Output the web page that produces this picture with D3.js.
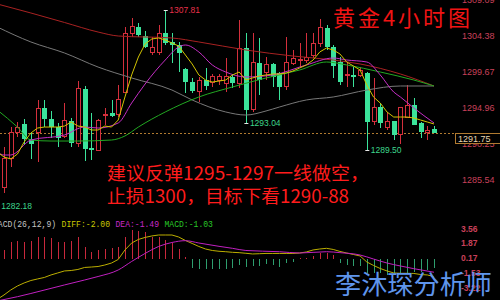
<!DOCTYPE html>
<html>
<head>
<meta charset="utf-8">
<script src="https://cdn.jsdelivr.net/npm/d3@7"></script>
<style>
  html, body { margin: 0; padding: 0; background: #000; overflow: hidden; }
  svg { display: block; }
</style>
</head>
<body>
<svg id="chart" width="500" height="300"></svg>
<script>
// ---- 4-hour gold candles (index 0 .. 65, oldest first) ----
const opens = [
  1283.50,
  1284.62, 1288.29, 1291.69, 1292.87, 1290.90,
  1291.69, 1294.96, 1293.52, 1292.47, 1291.17,
  1293.26, 1290.38, 1297.45, 1289.73, 1289.46,
  1294.04, 1294.31, 1294.17, 1297.05, 1304.77,
  1305.56, 1304.38, 1302.16, 1302.16, 1304.77,
  1303.60, 1303.20, 1300.06, 1298.36, 1297.18,
  1298.62, 1298.36, 1298.62, 1298.23, 1299.02,
  1298.23, 1302.81, 1294.70, 1300.85, 1299.67,
  1300.72, 1299.54, 1297.71, 1300.72, 1301.30,
  1301.24, 1301.89, 1303.46, 1305.43, 1302.94,
  1300.98, 1299.15, 1299.28, 1299.15, 1299.54,
  1293.13, 1295.09, 1292.47, 1293.26, 1291.43,
  1293.78, 1295.35, 1293.00, 1291.82, 1292.21
];
const highs = [
  1285.00,
  1289.86, 1292.47, 1293.13, 1293.52, 1291.69,
  1296.01, 1296.01, 1294.57, 1293.00, 1295.61,
  1293.65, 1298.49, 1297.84, 1294.31, 1293.52,
  1294.96, 1296.01, 1297.97, 1305.56, 1306.73,
  1306.08, 1305.03, 1304.25, 1305.82, 1307.81,
  1304.77, 1303.60, 1300.19, 1298.89, 1299.02,
  1300.19, 1299.41, 1299.41, 1301.50, 1299.41,
  1306.47, 1304.77, 1304.77, 1304.12, 1301.63,
  1300.85, 1299.67, 1304.25, 1302.55, 1303.46,
  1304.77, 1304.77, 1306.60, 1305.82, 1303.20,
  1301.63, 1300.85, 1300.32, 1300.32, 1299.67,
  1298.89, 1295.61, 1294.44, 1293.26, 1295.09,
  1297.97, 1296.27, 1293.13, 1292.60, 1292.60
];
const lows = [
  1282.18,
  1283.84, 1287.24, 1291.17, 1290.25, 1288.29,
  1287.89, 1292.47, 1291.04, 1289.86, 1291.04,
  1289.86, 1289.86, 1288.03, 1288.16, 1289.33,
  1292.74, 1293.78, 1293.78, 1296.92, 1304.25,
  1304.25, 1302.81, 1301.89, 1301.89, 1303.20,
  1300.85, 1299.67, 1296.92, 1296.92, 1295.74,
  1297.31, 1297.71, 1297.97, 1297.05, 1297.58,
  1297.58, 1293.04, 1294.44, 1296.66, 1298.62,
  1297.71, 1296.01, 1297.31, 1300.59, 1300.32,
  1300.85, 1301.50, 1302.94, 1302.55, 1298.89,
  1297.97, 1297.71, 1297.71, 1299.02, 1289.50,
  1292.74, 1292.34, 1292.08, 1290.77, 1290.25,
  1293.65, 1292.74, 1291.04, 1290.77, 1291.69
];
const closes = [
  1284.60,
  1288.29, 1291.69, 1292.47, 1290.90, 1290.25,
  1294.96, 1293.52, 1292.47, 1291.04, 1293.26,
  1290.38, 1297.45, 1289.60, 1289.46, 1293.26,
  1294.17, 1293.91, 1296.01, 1304.77, 1305.56,
  1304.51, 1302.94, 1302.94, 1304.77, 1303.46,
  1303.20, 1302.16, 1298.36, 1297.18, 1298.62,
  1297.84, 1299.02, 1299.02, 1299.02, 1298.23,
  1302.81, 1294.70, 1300.85, 1298.62, 1300.59,
  1299.02, 1297.71, 1300.85, 1301.50, 1301.37,
  1301.63, 1303.46, 1305.43, 1302.94, 1300.46,
  1298.36, 1299.28, 1299.02, 1299.93, 1293.13,
  1295.09, 1293.00, 1293.13, 1291.43, 1295.09,
  1295.35, 1292.74, 1291.82, 1292.08, 1291.75
];
const lastPrice = 1291.75;

// ---- moving averages ----
// short average, one value per bar from index 0
const ma5 = [
  1289.20,
  1288.55, 1288.29, 1288.94, 1290.51, 1291.69, 1292.34, 1292.47, 1292.47, 1292.47, 1292.60,
  1293.13, 1292.60, 1292.47, 1292.08, 1292.08, 1292.60, 1292.47, 1293.39, 1296.40, 1299.28,
  1301.63, 1303.33, 1303.99, 1304.12, 1303.86, 1303.46, 1303.07, 1301.89, 1300.72, 1299.28,
  1298.62, 1298.36, 1298.49, 1298.62, 1299.28, 1299.67, 1298.62, 1298.89, 1299.15, 1299.28,
  1299.41, 1299.41, 1299.54, 1299.80, 1300.19, 1300.59, 1301.24, 1302.29, 1302.81, 1302.55,
  1302.03, 1300.98, 1300.46, 1299.93, 1297.97, 1296.40, 1295.61, 1294.44, 1293.78, 1293.78,
  1293.78, 1293.65, 1293.39, 1293.13, 1292.87
];
// longer averages, sampled at the listed bar indices
const ma10Idx = [0, 1, 2, 5, 10, 13, 15, 18, 20, 22, 25, 27, 28, 30, 32, 34, 37, 41, 46, 50, 52, 55, 57, 59, 60, 62, 65];
const ma10Val = [1289.20, 1288.81, 1288.81, 1290.77, 1291.43, 1292.47, 1292.34, 1293.00, 1295.61, 1298.10,
                 1301.24, 1302.94, 1303.20, 1302.29, 1300.59, 1299.67, 1299.02, 1299.28, 1300.59, 1301.50,
                 1301.24, 1300.98, 1299.28, 1297.05, 1296.40, 1294.96, 1293.00];
const ma20Idx = [0, 3, 5, 8, 12, 17, 19, 21, 25, 30, 35, 40, 45, 49, 52, 57, 62, 65];
const ma20Val = [1294.70, 1292.47, 1290.77, 1290.64, 1290.64, 1290.77, 1291.30, 1292.47, 1294.44, 1296.40,
                 1297.71, 1298.89, 1299.93, 1300.98, 1300.59, 1299.67, 1298.62, 1297.84];
const ma60Idx = [0, 5, 10, 15, 18, 26, 30, 37, 44, 50, 54, 60, 65];
const ma60Val = [1308.57, 1307.39, 1306.15, 1304.90, 1304.38, 1304.12, 1303.60, 1302.55, 1301.76, 1301.24,
                 1300.72, 1299.41, 1297.84];
const ma120Idx = [0, 5, 10, 15, 20, 26, 29, 34, 37, 40, 42, 46, 50, 55, 60, 65];
const ma120Val = [1305.56, 1303.60, 1302.16, 1300.32, 1298.89, 1297.31, 1296.01, 1294.44, 1294.04, 1294.57,
                  1295.09, 1296.01, 1296.40, 1297.31, 1297.84, 1297.84];

// ---- MACD(26,12,9) ----
const macdHist = [
  1.07, 2.02, 2.14, 2.02, 2.14, 2.60, 2.60, 2.41, 2.02, 2.02,
  2.14, 2.60, 1.45, 0.87, 1.07, 1.15, 1.26, 1.45, 2.60, 3.37,
  3.29, 3.17, 2.60, 2.60, 2.22, 1.84, 1.15, 0.30, -1.03, -1.15,
  -1.15, -1.15, -1.15, -1.15, -1.03, -0.66, -0.85, -0.77, -0.77, -0.54,
  -0.66, -0.85, -0.46, -0.28, 0.11, 0.11, 0.38, 0.76, 0.69, 0.49,
  -0.39, -0.66, -0.77, -0.77, -1.61, -1.61, -1.61, -1.80, -1.61, -1.64,
  -1.61, -1.43, -1.43, -1.23, -1.03
]; // bars for index 1 .. 65
const diffLine = [
  -4.60, -4.10, -3.53, -3.07, -2.72, -2.44, -2.26, -2.09, -1.80, -1.57,
  -1.34, -1.29, -1.17, -0.94, -0.89, -0.83, -0.66, -0.43, -0.02, 1.07,
  1.87, 2.28, 2.51, 2.68, 2.79, 2.79, 2.79, 2.56, 2.16, 1.82,
  1.47, 1.18, 1.01, 0.92, 0.87, 0.80, 0.76, 0.69, 0.61, 0.64,
  0.67, 0.67, 0.67, 0.67, 0.67, 0.72, 0.84, 1.07, 1.18, 1.26,
  1.13, 0.90, 0.72, 0.55, 0.38, -0.31, -0.71, -1.06, -1.34, -1.57,
  -1.61, -1.61, -1.63, -1.75, -1.80, -2.00
];
const deaIdx = [0, 3, 5, 10, 13, 15, 18, 20, 22, 24, 26, 28, 30, 33, 35, 37, 42, 45, 49, 51, 54, 56, 58, 60, 62, 65];
const deaVal = [-4.79, -4.30, -3.93, -2.95, -2.38, -1.98, -1.23, -0.25, 0.67, 1.47, 1.93, 2.14, 1.87, 1.49, 1.26,
                1.01, 0.87, 0.72, 0.87, 0.76, 0.49, 0.03, -0.43, -0.77, -1.08, -1.49];
const macdTitle = ["MACD(26,12,9)", "DIFF:-2.00", "DEA:-1.49", "MACD:-1.03"];

// ---- axis ticks and labels ----
const priceTicks = [1309.09, 1304.38, 1299.67, 1294.96, 1290.25, 1285.54];
const macdTicks = [3.56, 1.87, 0.17, -1.53, -3.22];
const titleText = "黄金4小时图";
const noteLines = ["建议反弹1295-1297一线做空，", "止损1300，目标下看1290-88"];
const authorText = "李沐琛分析师";

// ---- palette ----
const C = {
  up: "#d42f3c", down: "#3be39b",
  ma5: "#d2c400", ma10: "#c52ec5", ma20: "#22a822", ma60: "#a82222", ma120: "#787878",
  histUp: "#c8283c", histDown: "#2e9e6e", diff: "#bcae00", dea: "#c020c0",
  axis: "#c8405a", last: "#b07a30"
};

const svg = d3.select("#chart");
svg.append("rect").attr("width", 500).attr("height", 300).attr("fill", "#000");

const x = d3.scaleLinear().domain([1, 65]).range([4, 434]);
const y = d3.scaleLinear().domain([1285.54, 1304.38]).range([180, 36]);
const ym = d3.scaleLinear().domain([-3.22, 3.56]).range([287.3, 228.3]);
const px = i => Math.round(x(i));

const defs = svg.append("defs");
defs.append("clipPath").attr("id", "pricePane").append("rect").attr("x", 0).attr("y", 0).attr("width", 456).attr("height", 214);
defs.append("clipPath").attr("id", "macdPane").append("rect").attr("x", 0).attr("y", 214).attr("width", 456).attr("height", 86);

// ---- price pane ----
const price = svg.append("g").attr("clip-path", "url(#pricePane)");

// last price dashed line
price.append("line")
  .attr("x1", 0).attr("x2", 455)
  .attr("y1", Math.round(y(lastPrice)) + 0.5).attr("y2", Math.round(y(lastPrice)) + 0.5)
  .attr("stroke", C.last).attr("stroke-width", 1).attr("stroke-dasharray", "2,2");

const idx = d3.range(opens.length);
const candles = price.append("g").attr("shape-rendering", "crispEdges");
candles.selectAll("line").data(idx).join("line")
  .attr("x1", i => px(i) + 0.5).attr("x2", i => px(i) + 0.5)
  .attr("y1", i => y(highs[i])).attr("y2", i => y(lows[i]))
  .attr("stroke", i => closes[i] >= opens[i] ? C.up : C.down).attr("stroke-width", 1);
candles.selectAll("rect").data(idx).join("rect")
  .each(function (i) {
    const up = closes[i] >= opens[i];
    const top = y(Math.max(opens[i], closes[i]));
    const bot = y(Math.min(opens[i], closes[i]));
    const h = Math.max(1, bot - top);
    const r = d3.select(this);
    if (up) {
      r.attr("x", px(i) - 1.5).attr("width", 4)
       .attr("y", top).attr("height", h)
       .attr("fill", "#000").attr("stroke", C.up).attr("stroke-width", 1);
    } else {
      r.attr("x", px(i) - 2).attr("width", 5)
       .attr("y", top).attr("height", h)
       .attr("fill", C.down);
    }
  });

// moving average lines
const smooth = d3.line().curve(d3.curveMonotoneX);
const drawMA = (ids, vals, color) => price.append("path")
  .attr("d", smooth(ids.map((i, k) => [x(i), y(vals[k])])))
  .attr("fill", "none").attr("stroke", color).attr("stroke-width", 1);
drawMA(ma120Idx, ma120Val, C.ma120);
drawMA(ma60Idx, ma60Val, C.ma60);
drawMA(ma20Idx, ma20Val, C.ma20);
drawMA(ma10Idx, ma10Val, C.ma10);
price.append("path")
  .attr("d", d3.line()(ma5.map((v, i) => [x(i), y(v)])))
  .attr("fill", "none").attr("stroke", C.ma5).attr("stroke-width", 1);

// high / low markers
const markFont = "8.5px 'Liberation Sans', Arial, sans-serif";
const marks = [
  { i: 25, v: highs[25], color: "#e8304a" },
  { i: 37, v: lows[37], color: "#3dd68c" },
  { i: 55, v: lows[55], color: "#3dd68c" },
  { i: 0, v: lows[0], color: "#3dd68c" }
];
const mk = svg.append("g");
marks.forEach(m => {
  const yy = Math.round(y(m.v)) + 0.5;
  mk.append("line").attr("x1", x(m.i) - 1.5).attr("x2", x(m.i) + 2.5)
    .attr("y1", yy).attr("y2", yy).attr("stroke", "#e8e8e8").attr("stroke-width", 1);
  mk.append("text").attr("x", x(m.i) + 4).attr("y", yy).attr("dy", "0.35em")
    .style("font", markFont).attr("fill", m.color).text(m.v.toFixed(2));
});

// price axis on the right
const pAxis = svg.append("g").attr("transform", "translate(459,0)")
  .call(d3.axisRight(y).tickValues(priceTicks).tickSize(0).tickPadding(3).tickFormat(d => d.toFixed(2)));
pAxis.select(".domain").remove();
pAxis.selectAll("text").attr("fill", C.axis).style("font", "9px 'Liberation Sans', Arial, sans-serif");

// last price tag
const lpY = Math.round(y(lastPrice)) + 0.5;
svg.append("rect").attr("x", 455.5).attr("y", lpY).attr("width", 50).attr("height", 10)
  .attr("fill", "#000").attr("stroke", C.last).attr("stroke-width", 1);
svg.append("text").attr("x", 458).attr("y", lpY + 5).attr("dy", "0.35em")
  .style("font", "9px 'Liberation Sans', Arial, sans-serif").attr("fill", "#e6d6b0")
  .text(lastPrice.toFixed(2));

// ---- MACD pane ----
const macd = svg.append("g").attr("clip-path", "url(#macdPane)");
macd.append("g").attr("shape-rendering", "crispEdges")
  .selectAll("line").data(macdHist).join("line")
  .attr("x1", (v, k) => px(k + 1) + 0.5).attr("x2", (v, k) => px(k + 1) + 0.5)
  .attr("y1", ym(0)).attr("y2", v => ym(v))
  .attr("stroke", v => v >= 0 ? C.histUp : C.histDown).attr("stroke-width", 1);
macd.append("path")
  .attr("d", d3.line()(diffLine.map((v, i) => [x(i), ym(v)])))
  .attr("fill", "none").attr("stroke", C.diff).attr("stroke-width", 1);
macd.append("path")
  .attr("d", smooth(deaIdx.map((i, k) => [x(i), ym(deaVal[k])])))
  .attr("fill", "none").attr("stroke", C.dea).attr("stroke-width", 1);

const mAxis = svg.append("g").attr("transform", "translate(459,0)")
  .call(d3.axisRight(ym).tickValues(macdTicks).tickSize(0).tickPadding(2).tickFormat(d => d.toFixed(2)));
mAxis.select(".domain").remove();
mAxis.selectAll("text").attr("fill", C.axis).style("font", "bold 8.5px 'Liberation Sans', Arial, sans-serif");

// MACD header, monospaced cells
const cell = 4.9;
const headColors = ["#c4c4c4", "#c8c800", "#c828c8", "#28c828"];
let col = 0;
macdTitle.forEach((t, k) => {
  svg.append("text").attr("x", -7 + col * cell).attr("y", 226.5)
    .attr("textLength", t.length * cell - 0.6).attr("lengthAdjust", "spacingAndGlyphs")
    .style("font", "8.6px 'Liberation Mono', 'DejaVu Sans Mono', monospace")
    .attr("fill", headColors[k]).text(t);
  col += t.length + 1;
});

// ---- captions ----
svg.append("text").attr("x", 333).attr("y", 26)
  .attr("textLength", 137).attr("lengthAdjust", "spacing")
  .style("font", "22px 'Noto Sans CJK SC', sans-serif").attr("fill", "#f01414")
  .text(titleText);

svg.append("text").attr("x", 107).attr("y", 180)
  .attr("textLength", 262).attr("lengthAdjust", "spacingAndGlyphs")
  .style("font", "18.5px 'Noto Sans CJK SC', sans-serif").attr("fill", "#ff1c1c")
  .text(noteLines[0]);
svg.append("text").attr("x", 107).attr("y", 203)
  .attr("textLength", 242).attr("lengthAdjust", "spacingAndGlyphs")
  .style("font", "18.5px 'Noto Sans CJK SC', sans-serif").attr("fill", "#ff1c1c")
  .text(noteLines[1]);

svg.append("text").attr("x", 335).attr("y", 294)
  .attr("textLength", 157).attr("lengthAdjust", "spacingAndGlyphs")
  .style("font", "26px 'Noto Sans CJK SC', sans-serif").attr("fill", "#5f95ec")
  .text(authorText);
</script>
</body>
</html>
